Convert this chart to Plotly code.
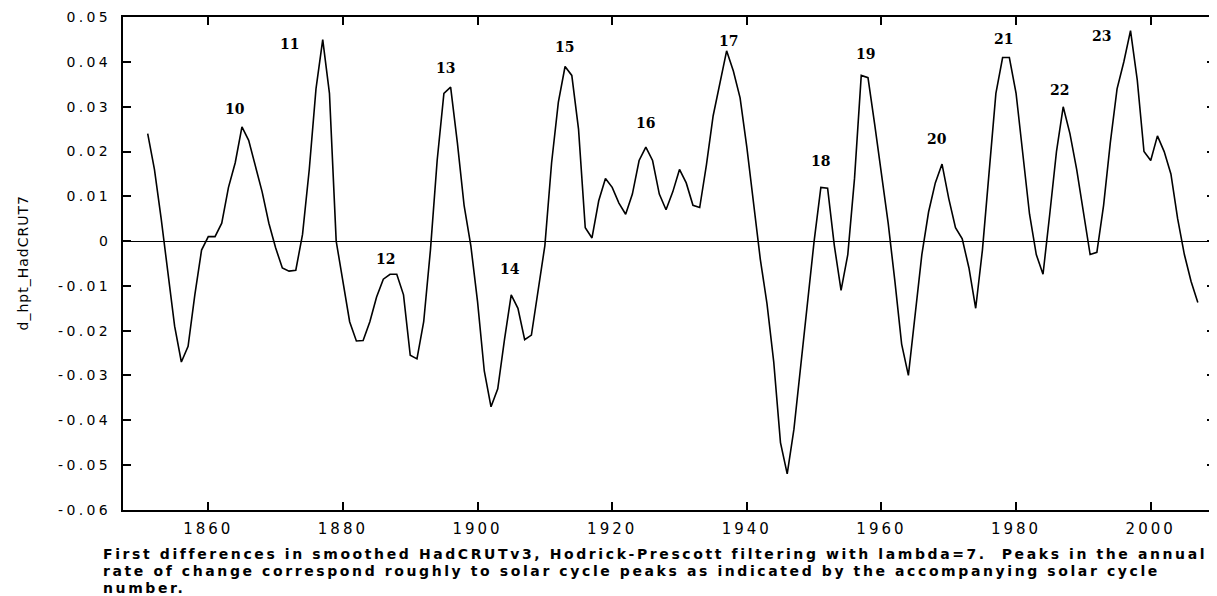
import plotly.graph_objects as go

# ---- data ----
years = list(range(1851, 2008))
d_hpt = [
    0.024, 0.016, 0.005, -0.0077, -0.019, -0.027, -0.0235, -0.012, -0.002,          # 1851-1859
    0.001, 0.001, 0.004, 0.012, 0.0175, 0.0255, 0.0225, 0.017, 0.011, 0.004,        # 1860-1869
    -0.0015, -0.006, -0.0067, -0.0065, 0.0015, 0.016, 0.034, 0.045, 0.033, 0.0,     # 1870-1879
    -0.009, -0.018, -0.0223, -0.0222, -0.018, -0.0125, -0.0085, -0.0074, -0.0074, -0.012,  # 1880-1889
    -0.0255, -0.0263, -0.018, -0.002, 0.018, 0.033, 0.0344, 0.022, 0.008, -0.001,   # 1890-1899
    -0.0135, -0.029, -0.037, -0.033, -0.022, -0.012, -0.015, -0.022, -0.021, -0.011,  # 1900-1909
    -0.001, 0.0175, 0.031, 0.039, 0.037, 0.025, 0.003, 0.0007, 0.009, 0.014,        # 1910-1919
    0.012, 0.0085, 0.006, 0.0105, 0.018, 0.021, 0.018, 0.0105, 0.007, 0.011,        # 1920-1929
    0.016, 0.013, 0.008, 0.0075, 0.017, 0.028, 0.035, 0.0425, 0.038, 0.032,         # 1930-1939
    0.021, 0.009, -0.004, -0.014, -0.027, -0.045, -0.052, -0.042, -0.028, -0.014,   # 1940-1949
    0.0, 0.012, 0.0118, -0.001, -0.011, -0.003, 0.014, 0.037, 0.0365, 0.026,        # 1950-1959
    0.015, 0.004, -0.009, -0.023, -0.030, -0.017, -0.003, 0.0065, 0.013, 0.0172,    # 1960-1969
    0.0095, 0.003, 0.0005, -0.006, -0.015, -0.002, 0.016, 0.033, 0.041, 0.041,      # 1970-1979
    0.033, 0.020, 0.006, -0.003, -0.0074, 0.006, 0.020, 0.030, 0.024, 0.016,        # 1980-1989
    0.007, -0.003, -0.0025, 0.008, 0.022, 0.034, 0.040, 0.047, 0.036, 0.020,        # 1990-1999
    0.018, 0.0235, 0.020, 0.015, 0.005, -0.003, -0.009, -0.0137,                    # 2000-2007
]

cycle_labels = ["10", "11", "12", "13", "14", "15", "16", "17", "18", "19", "20", "21", "22", "23"]
cycle_label_x = [1864.0, 1872.1, 1886.3, 1895.2, 1904.8, 1912.9, 1924.9, 1937.3,
                 1950.9, 1957.7, 1968.2, 1978.2, 1986.5, 1992.7]
cycle_label_y = [0.0296, 0.0441, -0.0041, 0.0387, -0.0063, 0.0433, 0.0263, 0.0448,
                 0.0178, 0.0418, 0.0227, 0.0452, 0.0337, 0.0458]

x_tick_vals = [1860, 1880, 1900, 1920, 1940, 1960, 1980, 2000]
x_tick_text = ["1860", "1880", "1900", "1920", "1940", "1960", "1980", "2000"]
y_tick_vals = [0.05, 0.04, 0.03, 0.02, 0.01, 0.0, -0.01, -0.02, -0.03, -0.04, -0.05, -0.06]
y_tick_text = ["0.05", "0.04", "0.03", "0.02", "0.01", "0", "-0.01", "-0.02", "-0.03",
               "-0.04", "-0.05", "-0.06"]

y_title = "d_hpt_HadCRUT7"
caption_lines = [
    "First differences in smoothed HadCRUTv3, Hodrick-Prescott filtering with lambda=7.  Peaks in the annual",
    "rate of change correspond roughly to solar cycle peaks as indicated by the accompanying solar cycle",
    "number.",
]


def spaced(text, px):
    return '<span style="letter-spacing:%spx">%s</span>' % (px, text)


# ---- figure ----
fig = go.Figure()
fig.add_trace(go.Scatter(
    x=years, y=d_hpt, mode="lines",
    line=dict(color="black", width=1.6),
    showlegend=False, hoverinfo="x+y",
))

for t, lx, ly in zip(cycle_labels, cycle_label_x, cycle_label_y):
    fig.add_annotation(x=lx, y=ly, text="<b>" + t + "</b>", showarrow=False,
                       xanchor="center", yanchor="middle",
                       font=dict(family="DejaVu Serif", size=14, color="black"))

fig.add_annotation(xref="paper", yref="paper", x=0, y=0.5, xshift=-101,
                   text=spaced(y_title, 1), textangle=-90, showarrow=False,
                   xanchor="center", yanchor="middle",
                   font=dict(family="DejaVu Sans", size=14, color="black"))

for i, line in enumerate(caption_lines):
    fig.add_annotation(xref="paper", yref="paper", x=0, y=0, xshift=-22,
                       yshift=-(44 + 17 * i), text="<b>" + spaced(line, 2.6) + "</b>",
                       showarrow=False, xanchor="left", yanchor="middle",
                       align="left",
                       font=dict(family="DejaVu Sans", size=14, color="black"))

x_axis_font = dict(family="DejaVu Sans", size=15, color="black")
y_axis_font = dict(family="DejaVu Sans", size=14, color="black")

# the page body adds an 8 px offset, so the figure is 8 px smaller than the window
fig.update_layout(
    width=1209, height=588,
    margin=dict(l=115, r=2, t=9, b=86, autoexpand=False),
    paper_bgcolor="white", plot_bgcolor="white",
    showlegend=False,
    xaxis=dict(
        range=[1847.33, 2009.55], tickvals=x_tick_vals,
        ticktext=[spaced(t, 3) for t in x_tick_text],
        showgrid=False, zeroline=False, automargin=False,
        showline=True, linecolor="black", linewidth=2, mirror="ticks",
        ticks="inside", ticklen=8, tickwidth=1.5, tickcolor="black",
        tickfont=x_axis_font, ticklabelstandoff=4, ticklabeloverflow="allow",
    ),
    yaxis=dict(
        range=[-0.06005, 0.05005], tickvals=y_tick_vals,
        ticktext=[spaced(t, 3.4) for t in y_tick_text],
        showgrid=False, zeroline=True, zerolinecolor="black", zerolinewidth=1,
        automargin=False,
        showline=True, linecolor="black", linewidth=2, mirror="ticks",
        ticks="inside", ticklen=8, tickwidth=1.5, tickcolor="black",
        tickfont=y_axis_font, ticklabelstandoff=7, ticklabeloverflow="allow",
    ),
)

fig.write_html("out.html")
